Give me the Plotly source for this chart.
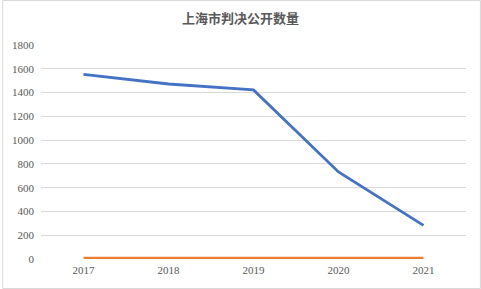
import plotly.graph_objects as go

years = ["2017", "2018", "2019", "2020", "2021"]
series_a = [1552, 1472, 1422, 732, 283]
series_b = [10, 10, 10, 10, 10]
y_ticks = [0, 200, 400, 600, 800, 1000, 1200, 1400, 1600, 1800]

W, H = 481, 289
L, R, T, B = 39, 15, 45, 30
pw, ph = W - L - R, H - T - B

fig = go.Figure()
fig.add_trace(go.Scatter(x=years, y=series_a, mode="lines",
                         line=dict(color="#4472C4", width=2.8), showlegend=False))
fig.add_trace(go.Scatter(x=years, y=series_b, mode="lines",
                         line=dict(color="#ED7D31", width=2.2), showlegend=False))

tick_font = dict(family="Liberation Serif", size=11, color="#595959")
fig.update_layout(
    width=W, height=H,
    margin=dict(l=L, r=R, t=T, b=B),
    paper_bgcolor="white", plot_bgcolor="white",
    title=dict(text="<b>上海市判决公开数量</b>", x=0.5, xanchor="center", y=1 - 18 / H, yanchor="middle",
               font=dict(family="Noto Sans CJK SC", size=13, color="#595959")),
    xaxis=dict(type="category", range=[-0.5, 4.5], showgrid=False, showline=False, ticks="",
               tickfont=tick_font, ticklabelstandoff=3),
    yaxis=dict(range=[0, 1800], tickvals=y_ticks, showgrid=True, gridcolor="#d9d9d9", gridwidth=1,
               zeroline=False, showline=False, ticks="", tickfont=tick_font, ticklabelstandoff=6),
    shapes=[dict(type="rect", xref="paper", yref="paper",
                 x0=(0.5 - L) / pw, x1=(W - 0.5 - L) / pw,
                 y0=-(B - 0.5) / ph, y1=1 + (T - 0.5) / ph,
                 line=dict(color="#d9d9d9", width=1), layer="below")],
)
fig.write_html("out.html")
